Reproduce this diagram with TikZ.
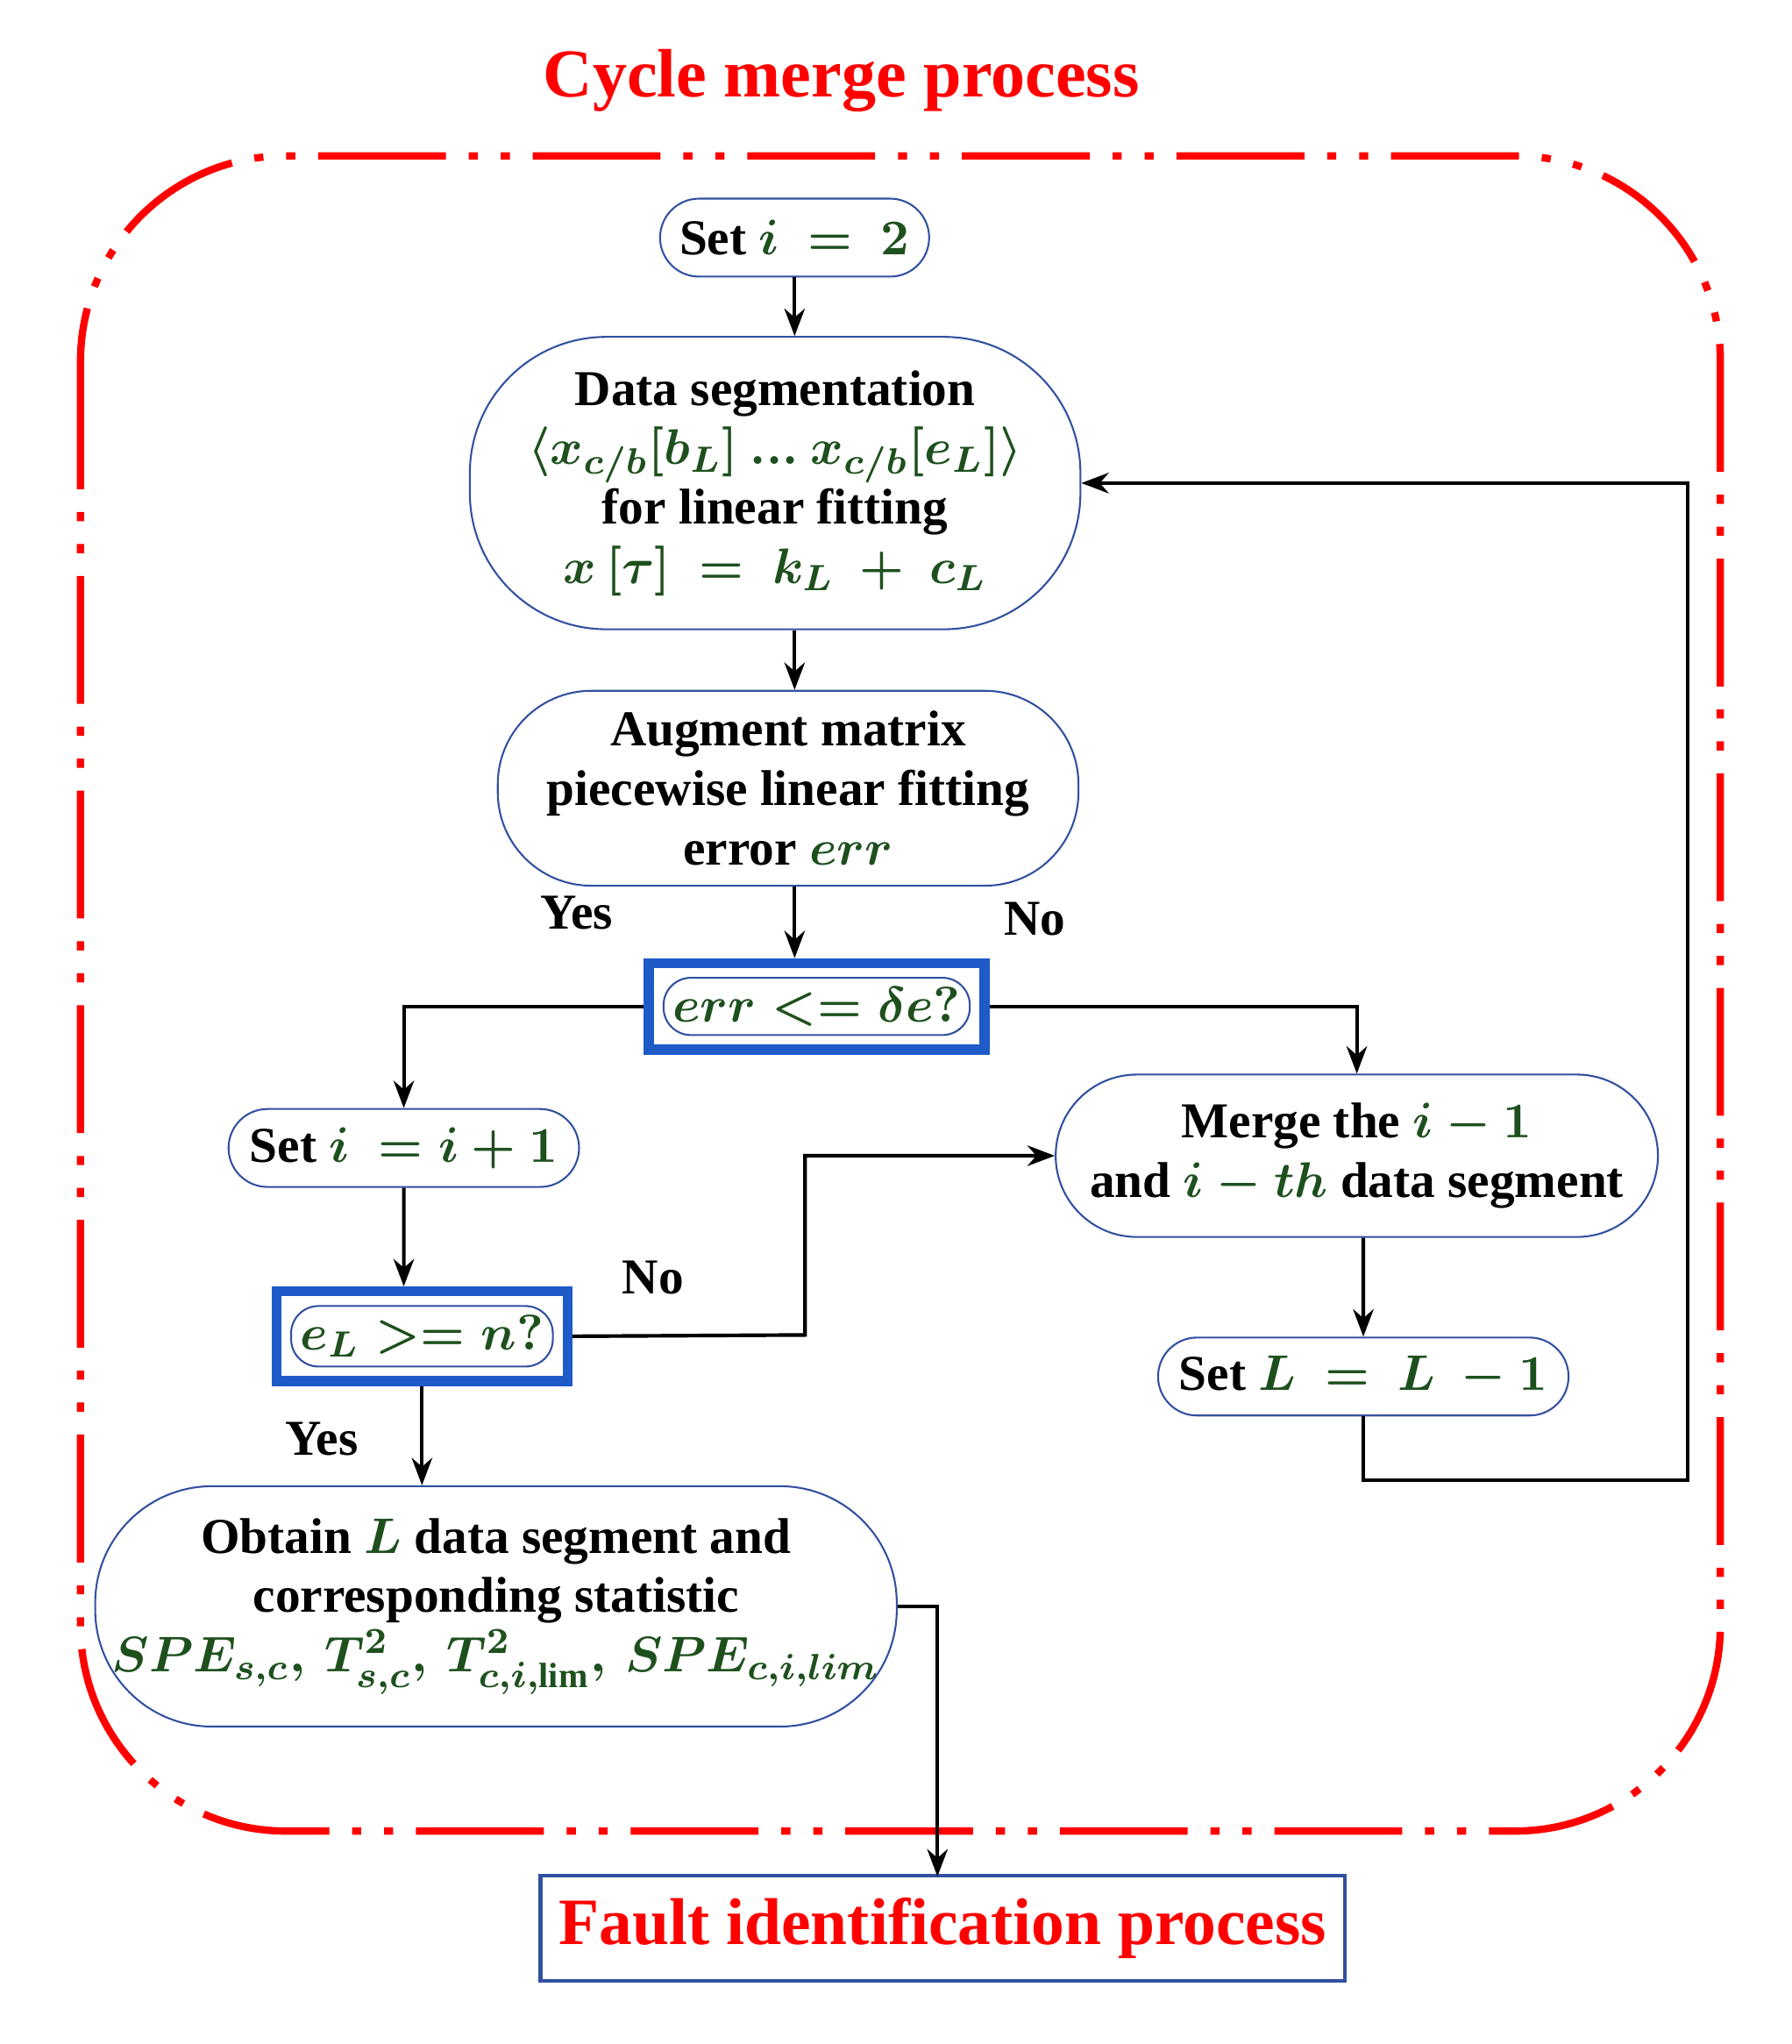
\documentclass[tikz,border=0pt]{standalone}
\usepackage{fontspec}
\setmainfont{Liberation Serif}
\usetikzlibrary{shapes.misc,arrows.meta}
\definecolor{lineblue}{RGB}{50,80,160}
\definecolor{boxblue}{RGB}{30,90,200}
\definecolor{mgreen}{RGB}{30,80,30}
\newcommand{\gm}[1]{\textcolor{mgreen}{$#1$}}
\begin{document}
\begin{tikzpicture}[
    x=0.01cm,y=-0.01cm,
    step/.style 2 args={draw=lineblue,thin,rounded rectangle,minimum width=#1,minimum height=#2,align=center,font=\fontsize{11}{13}\selectfont\bfseries\boldmath},
    blob/.style n args={3}{draw=lineblue,thin,rounded corners=#3,minimum width=#1,minimum height=#2,inner sep=1pt,align=center,font=\fontsize{11}{13}\selectfont\bfseries\boldmath},
    test/.style={draw=boxblue,line width=2.2pt,inner sep=3pt,font=\fontsize{11}{13}\selectfont\boldmath},
    amark/.style={-{Stealth[length=6pt]},thick},
    lab/.style={font=\fontsize{11}{13}\selectfont\bfseries}
]
\useasboundingbox (0,0) rectangle (1380,1574);

%Draw the frame
\node[text=red,font=\fontsize{15}{17}\selectfont\bfseries] (title) at (648,62) {Cycle merge process};
\draw[red,line width=1.6pt,dash pattern=on 28pt off 5pt on 2pt off 5pt on 2pt off 5pt,rounded corners=45pt] (62,120) rectangle (1325,1410);

%Draw the nodes
\node[step={2cm}{0.6cm}] (a) at (612,183) {Set \gm{i\ =\ 2}};
\node[blob={4.7cm}{2.25cm}{1.05cm}] (b) at (597,372) {Data segmentation\\ \gm{\langle x_{c/b}[b_L]\ ...\ x_{c/b}[e_L]\rangle}\\ for linear fitting\\ \gm{x\,[\tau]\ =\ k_L\ +\ c_L}};
\node[blob={4.47cm}{1.5cm}{0.72cm}] (c) at (607,607) {Augment matrix\\ piecewise linear fitting\\ error \gm{err}};
\node[test] (d) at (629,775) {\tikz\node[draw=lineblue,thin,rounded corners=6pt,inner sep=2pt]{\gm{err <= \delta e?}};};
\node[step={2.62cm}{0.6cm}] (e) at (311,884) {Set \gm{i\ = i+1}};
\node[test] (f) at (325,1029) {\tikz\node[draw=lineblue,thin,rounded corners=6pt,inner sep=2pt]{\gm{e_L >= n?}};};
\node[step={4.87cm}{1.25cm}] (g) at (1045,890) {Merge the \gm{i-1}\\ and \gm{i-th} data segment};
\node[step={2.85cm}{0.6cm}] (h) at (1050,1060) {Set \gm{L\ =\ L\ -1}};
\node[blob={6.17cm}{1.85cm}{0.9cm}] (k) at (382,1237) {Obtain \gm{L} data segment and\\ corresponding statistic\\ \gm{SPE_{s,c},\,T^2_{s,c},\,T^2_{c,i,\mathrm{lim}},\,SPE_{c,i,lim}}};
\node[draw=lineblue,thick,minimum width=6.19cm,minimum height=0.81cm,text=red,font=\fontsize{14.5}{17}\selectfont\bfseries] (m) at (726,1485) {Fault identification process};
\coordinate (r) at (1300,1140);

%Draw the connections
\draw[amark] (a.south) -- (a.south |- b.north);
\draw[amark] (b.south -| 612,0) -- (c.north -| 612,0);
\draw[amark] (c.south -| 612,0) -- (d.north -| 612,0);
\draw[amark] (d.west) -| (e.north);
\draw[amark] (d.east) -| (g.north);
\draw[amark] (e) -- (e |- f.north);
\draw[amark] (f.east) -- (620,1028) |- (g.west);
\draw[amark] (f.south) -- (f.south |- k.north);
\draw[amark] (g.south -| h) -- (h);
\draw[amark] (h.south) |- (r) |- (b.east);
\draw[amark] (k.east) -- (722,1237) -- (722,1445);

%Draw the labels
\node[lab] at (444,703) {Yes};
\node[lab] at (797,708) {No};
\node[lab] at (503,984) {No};
\node[lab] at (248,1108) {Yes};
\end{tikzpicture}
\end{document}
